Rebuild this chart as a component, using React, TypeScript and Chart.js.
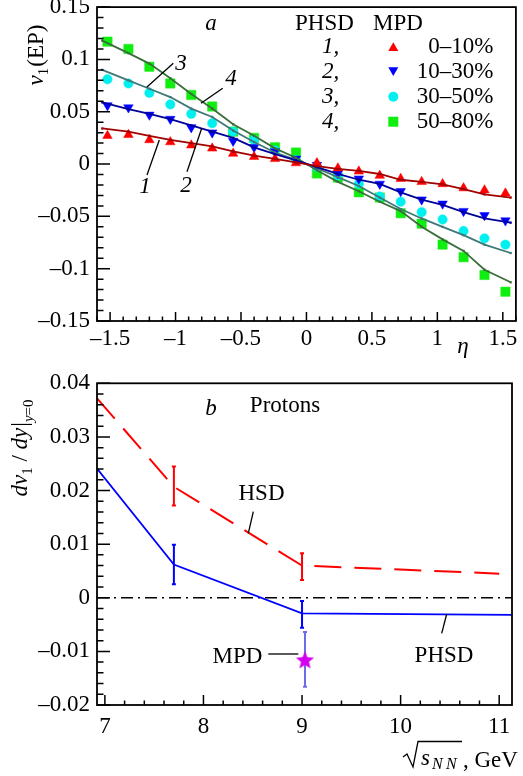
import React, { useEffect, useRef } from 'react';
import { Chart, registerables } from 'chart.js';
Chart.register(...registerables);

const SERIF = '"Liberation Serif", "Times New Roman", Times, "DejaVu Serif", serif';
const font = (size: number, style = '') => `${style} ${size}px ${SERIF}`.trim();

// ---------- Panel a : v1(EP) vs eta ----------
const ETA_MPD = [-1.52, -1.36, -1.2, -1.04, -0.88, -0.72, -0.56, -0.4, -0.24, -0.08, 0.08, 0.24, 0.4, 0.56, 0.72, 0.88, 1.04, 1.2, 1.36, 1.52];
const MPD_C0_10 = [0.027, 0.028, 0.023, 0.021, 0.018, 0.015, 0.010, 0.007, 0.005, 0.001, 0.001, -0.004, -0.007, -0.011, -0.014, -0.017, -0.019, -0.023, -0.025, -0.028];
const MPD_C10_30 = [0.056, 0.054, 0.047, 0.043, 0.035, 0.030, 0.022, 0.016, 0.012, 0.005, -0.001, -0.009, -0.014, -0.019, -0.026, -0.034, -0.038, -0.045, -0.049, -0.054];
const MPD_C30_50 = [0.081, 0.077, 0.068, 0.057, 0.048, 0.039, 0.031, 0.023, 0.013, 0.004, -0.003, -0.011, -0.019, -0.031, -0.036, -0.046, -0.053, -0.064, -0.071, -0.077];
const MPD_C50_80 = [0.117, 0.110, 0.093, 0.077, 0.066, 0.055, 0.031, 0.025, 0.016, 0.011, -0.009, -0.013, -0.027, -0.032, -0.047, -0.057, -0.077, -0.089, -0.106, -0.122];

const ETA_PHSD = [-1.56, -1.36, -1.2, -1.04, -0.88, -0.72, -0.56, -0.4, -0.24, -0.08, 0.08, 0.24, 0.4, 0.56, 0.72, 0.88, 1.04, 1.2, 1.36, 1.56];
const PHSD_1 = [0.034, 0.031, 0.027, 0.023, 0.020, 0.017, 0.012, 0.008, 0.005, 0.0015, -0.002, -0.0047, -0.0065, -0.0095, -0.015, -0.017, -0.0195, -0.024, -0.029, -0.032];
const PHSD_2 = [0.059, 0.0525, 0.048, 0.043, 0.037, 0.031, 0.025, 0.016, 0.0095, 0.0035, -0.003, -0.0094, -0.015, -0.019, -0.027, -0.034, -0.039, -0.046, -0.052, -0.056];
const PHSD_3 = [0.090, 0.080, 0.072, 0.064, 0.053, 0.045, 0.032, 0.021, 0.011, 0.004, -0.004, -0.0125, -0.021, -0.032, -0.043, -0.052, -0.060, -0.068, -0.077, -0.085];
const PHSD_4 = [0.118, 0.106, 0.096, 0.082, 0.067, 0.053, 0.038, 0.027, 0.015, 0.006, -0.006, -0.017, -0.026, -0.036, -0.045, -0.060, -0.072, -0.083, -0.101, -0.113];

const A_X_TICKS = [-1.5, -1, -0.5, 0, 0.5, 1, 1.5];
const A_X_LABELS = ['\u20131.5', '\u20131', '\u20130.5', '0', '0.5', '1', '1.5'];
const A_Y_TICKS = [-0.15, -0.1, -0.05, 0, 0.05, 0.1, 0.15];
const A_Y_LABELS = ['\u20130.15', '\u20130.1', '\u20130.05', '0', '0.05', '0.1', '0.15'];
const CENTRALITY = ['0\u201310%', '10\u201330%', '30\u201350%', '50\u201380%'];
const PHSD_IDS = ['1', '2', '3', '4'];

// ---------- Panel b : dv1/dy vs sqrt(sNN) ----------
const SQRT_S_HSD = [6.92, 7.7, 9.0, 11.0];
const DV1DY_HSD = [0.0372, 0.0207, 0.006, 0.0045];
const SQRT_S_PHSD = [6.92, 7.7, 9.0, 11.13];
const DV1DY_PHSD = [0.0241, 0.0062, -0.0029, -0.0032];
const ERR_X = [7.7, 9.0];
const HSD_ERR_LO = [0.0172, 0.0033];
const HSD_ERR_HI = [0.0245, 0.0083];
const PHSD_ERR_LO = [0.0025, -0.0056];
const PHSD_ERR_HI = [0.0099, -0.0006];
const MPD_X = [9.03];
const MPD_Y = [-0.0115];
const MPD_LO = [-0.0166];
const MPD_HI = [-0.0064];
const ZERO_X = [6.92, 11.13];
const ZERO_Y = [0, 0];

const B_X_TICKS = [7, 8, 9, 10, 11];
const B_X_LABELS = ['7', '8', '9', '10', '11'];
const B_Y_TICKS = [-0.02, -0.01, 0, 0.01, 0.02, 0.03, 0.04];
const B_Y_LABELS = ['\u20130.02', '\u20130.01', '0', '0.01', '0.02', '0.03', '0.04'];

type Part = { t: string; f: string; dy?: number; dx?: number };
function drawRich(ctx: CanvasRenderingContext2D, parts: Part[], x: number, y: number, angle: number, align: 'left' | 'center' | 'right') {
  ctx.save();
  ctx.translate(x, y);
  ctx.rotate(angle);
  ctx.textAlign = 'left';
  ctx.textBaseline = 'alphabetic';
  ctx.fillStyle = '#000';
  let total = 0;
  const w = parts.map((p) => { ctx.font = p.f; const m = ctx.measureText(p.t).width + (p.dx || 0); total += m; return m; });
  let cx = align === 'center' ? -total / 2 : align === 'right' ? -total : 0;
  parts.forEach((p, i) => { ctx.font = p.f; ctx.fillText(p.t, cx + (p.dx || 0), p.dy || 0); cx += w[i]; });
  ctx.restore();
}

function text(ctx: CanvasRenderingContext2D, t: string, x: number, y: number, f: string, align: CanvasTextAlign = 'left') {
  ctx.save();
  ctx.font = f; ctx.fillStyle = '#000'; ctx.textAlign = align; ctx.textBaseline = 'alphabetic';
  ctx.fillText(t, x, y);
  ctx.restore();
}

function line(ctx: CanvasRenderingContext2D, x1: number, y1: number, x2: number, y2: number, w = 1.3) {
  ctx.save();
  ctx.strokeStyle = '#000'; ctx.lineWidth = w;
  ctx.beginPath(); ctx.moveTo(x1, y1); ctx.lineTo(x2, y2); ctx.stroke();
  ctx.restore();
}

type TickCfg = { xMajor: number[]; xStep: number; xMaj: number; xMin: number; yMajor: number[]; yStep: number; yMaj: number; yMin: number };
function drawFrameTicks(chart: any, c: TickCfg) {
  const { ctx, chartArea: ca, scales } = chart;
  const xs = scales.x, ys = scales.y;
  ctx.save();
  ctx.strokeStyle = '#000';
  ctx.lineWidth = 1.5;
  ctx.beginPath();
  for (let k = Math.ceil(xs.min / c.xStep - 1e-6); k * c.xStep <= xs.max + 1e-9; k++) {
    const v = k * c.xStep;
    const major = c.xMajor.some((m) => Math.abs(m - v) < c.xStep / 10);
    const px = xs.getPixelForValue(v);
    ctx.moveTo(px, ca.bottom);
    ctx.lineTo(px, ca.bottom - (major ? c.xMaj : c.xMin));
  }
  for (let k = Math.ceil(ys.min / c.yStep - 1e-6); k * c.yStep <= ys.max + 1e-9; k++) {
    const v = k * c.yStep;
    const major = c.yMajor.some((m) => Math.abs(m - v) < c.yStep / 10);
    const py = ys.getPixelForValue(v);
    ctx.moveTo(ca.left, py);
    ctx.lineTo(ca.left + (major ? c.yMaj : c.yMin), py);
  }
  ctx.stroke();
  ctx.lineWidth = 1.8;
  ctx.strokeRect(ca.left, ca.top, ca.right - ca.left, ca.bottom - ca.top);
  ctx.restore();
}

function drawMarker(ctx: CanvasRenderingContext2D, kind: string, x: number, y: number, color: string, r: number) {
  ctx.save();
  ctx.fillStyle = color;
  ctx.beginPath();
  if (kind === 'up') { ctx.moveTo(x, y - r); ctx.lineTo(x + r * 0.866, y + r / 2); ctx.lineTo(x - r * 0.866, y + r / 2); }
  else if (kind === 'down') { ctx.moveTo(x, y + r); ctx.lineTo(x + r * 0.866, y - r / 2); ctx.lineTo(x - r * 0.866, y - r / 2); }
  else if (kind === 'circle') { ctx.arc(x, y, r, 0, Math.PI * 2); }
  else { ctx.rect(x - r, y - r, 2 * r, 2 * r); }
  ctx.closePath();
  ctx.fill();
  ctx.restore();
}

function xScale(min: number, max: number, ticks: number[], labels: string[], pad: number) {
  return {
    type: 'linear', min, max,
    grid: { display: false, drawTicks: false },
    border: { display: false },
    afterBuildTicks: (s: any) => { s.ticks = ticks.map((v) => ({ value: v })); },
    afterFit: (s: any) => { s.height = 40; s.paddingLeft = 0; s.paddingRight = 0; },
    ticks: {
      font: { family: SERIF, size: 23 }, color: '#000', padding: pad, maxRotation: 0, minRotation: 0, autoSkip: false,
      callback: (v: number) => { const i = ticks.findIndex((t) => Math.abs(t - v) < 1e-9); return i >= 0 ? labels[i] : ''; },
    },
  };
}
function yScale(min: number, max: number, ticks: number[], labels: string[], pad: number) {
  return {
    type: 'linear', min, max,
    grid: { display: false, drawTicks: false },
    border: { display: false },
    afterBuildTicks: (s: any) => { s.ticks = ticks.map((v) => ({ value: v })); },
    afterFit: (s: any) => { s.width = 97; s.paddingTop = 0; s.paddingBottom = 0; },
    ticks: {
      font: { family: SERIF, size: 23 }, color: '#000', padding: pad, autoSkip: false,
      callback: (v: number) => { const i = ticks.findIndex((t) => Math.abs(t - v) < 1e-9); return i >= 0 ? labels[i] : ''; },
    },
  };
}

const RED = '#ff0000', BLUE = '#0000ff', CYAN = '#00f0f0', GREEN = '#10ee10';
const L_RED = '#a30000', L_BLUE = '#00009a', L_TEAL = '#3f7878', L_GREEN = '#3b6e3b';

function topConfig(): any {
  const pts = (xs: number[], ys: number[]) => xs.map((x, i) => ({ x, y: ys[i] }));
  const lineDs = (ys: number[], color: string) => ({
    data: pts(ETA_PHSD, ys), showLine: true, borderColor: color, borderWidth: 1.8,
    pointRadius: 1.6, pointStyle: 'rect', pointBackgroundColor: color, pointBorderColor: color, pointBorderWidth: 0, order: 0,
  });
  const markDs = (ys: number[], color: string, style: string, r: number, rot = 0) => ({
    data: pts(ETA_MPD, ys), showLine: false, pointStyle: style, pointRadius: r, pointRotation: rot,
    pointBackgroundColor: color, pointBorderColor: color, pointBorderWidth: 0.5, order: 1,
  });
  const plugin = {
    id: 'panelA',
    afterDraw(chart: any) {
      const ctx = chart.ctx as CanvasRenderingContext2D;
      drawFrameTicks(chart, { xMajor: A_X_TICKS, xStep: 0.1, xMaj: 9, xMin: 4.5, yMajor: A_Y_TICKS, yStep: 0.01, yMaj: 13, yMin: 6.5 });
      drawRich(ctx, [
        { t: 'v', f: font(23, 'italic') },
        { t: '1', f: font(15), dy: 5 },
        { t: '(EP)', f: font(23), dx: 1 },
      ], 43, 55, -Math.PI / 2, 'center');
      text(ctx, '\u03b7', 463, 353, font(23, 'italic'), 'center');
      text(ctx, 'a', 211, 30, font(23, 'italic'), 'center');
      text(ctx, 'PHSD', 295, 30, font(23));
      text(ctx, 'MPD', 373, 30, font(23));
      const kinds = ['up', 'down', 'circle', 'square'];
      const cols = [RED, BLUE, CYAN, GREEN];
      const rs = [5.8, 5.8, 5, 5];
      for (let i = 0; i < 4; i++) {
        const base = 53.3 + i * 25;
        text(ctx, PHSD_IDS[i] + ',', 322, base, font(23, 'italic'));
        let cy = base - 6.6;
        if (kinds[i] === 'up') cy += rs[i] / 4;
        if (kinds[i] === 'down') cy -= rs[i] / 4;
        drawMarker(ctx, kinds[i], 393.3, cy, cols[i], rs[i]);
        text(ctx, CENTRALITY[i], 493.3, base, font(23), 'right');
      }
      text(ctx, '1', 145, 193, font(23, 'italic'), 'center');
      line(ctx, 147, 175, 159.3, 140);
      text(ctx, '2', 186, 192, font(23, 'italic'), 'center');
      line(ctx, 187, 171.7, 201.7, 128.3);
      text(ctx, '3', 181, 70, font(23, 'italic'), 'center');
      line(ctx, 173.3, 63.3, 146.7, 87.3);
      text(ctx, '4', 231, 85, font(23, 'italic'), 'center');
      line(ctx, 222.7, 88.3, 201, 103.3);
    },
  };
  return {
    type: 'scatter',
    data: {
      datasets: [
        lineDs(PHSD_1, L_RED), lineDs(PHSD_2, L_BLUE), lineDs(PHSD_3, L_TEAL), lineDs(PHSD_4, L_GREEN),
        markDs(MPD_C0_10, RED, 'triangle', 5.5),
        markDs(MPD_C10_30, BLUE, 'triangle', 5.5, 180),
        markDs(MPD_C30_50, CYAN, 'circle', 4.7),
        markDs(MPD_C50_80, GREEN, 'rect', 6.6),
      ],
    },
    options: {
      responsive: false, animation: false, devicePixelRatio: 1, events: [],
      layout: { padding: { left: 0, top: 3, right: 7, bottom: 776 - 321 - 40 } },
      plugins: { legend: { display: false }, tooltip: { enabled: false } },
      scales: { x: xScale(-1.6, 1.6, A_X_TICKS, A_X_LABELS, 4), y: yScale(-0.15, 0.15, A_Y_TICKS, A_Y_LABELS, 7) },
    },
    plugins: [plugin],
  };
}

function starCanvas(color: string, R: number, r: number) {
  const c = document.createElement('canvas');
  const s = Math.ceil(2 * R + 2);
  c.width = s; c.height = s;
  const g = c.getContext('2d')!;
  g.fillStyle = color;
  g.beginPath();
  for (let i = 0; i < 10; i++) {
    const rad = i % 2 === 0 ? R : r;
    const a = -Math.PI / 2 + (i * Math.PI) / 5;
    const px = s / 2 + rad * Math.cos(a), py = s / 2 + 1.2 + rad * Math.sin(a);
    if (i === 0) g.moveTo(px, py); else g.lineTo(px, py);
  }
  g.closePath(); g.fill();
  return c;
}

function bottomConfig(): any {
  const pts = (xs: number[], ys: number[]) => xs.map((x, i) => ({ x, y: ys[i] }));
  const errs = [
    ...ERR_X.map((x, i) => ({ x, lo: HSD_ERR_LO[i], hi: HSD_ERR_HI[i], color: RED })),
    ...ERR_X.map((x, i) => ({ x, lo: PHSD_ERR_LO[i], hi: PHSD_ERR_HI[i], color: BLUE })),
    ...MPD_X.map((x, i) => ({ x, lo: MPD_LO[i], hi: MPD_HI[i], color: '#6c6ce6' })),
  ];
  const plugin = {
    id: 'panelB',
    beforeDatasetsDraw(chart: any) {
      const ctx = chart.ctx as CanvasRenderingContext2D;
      const xs = chart.scales.x, ys = chart.scales.y;
      ctx.save();
      ctx.lineWidth = 2;
      for (const e of errs) {
        const px = xs.getPixelForValue(e.x), p1 = ys.getPixelForValue(e.lo), p2 = ys.getPixelForValue(e.hi);
        ctx.strokeStyle = e.color;
        ctx.beginPath();
        ctx.moveTo(px, p1); ctx.lineTo(px, p2);
        ctx.moveTo(px - 2, p1); ctx.lineTo(px + 2, p1);
        ctx.moveTo(px - 2, p2); ctx.lineTo(px + 2, p2);
        ctx.stroke();
      }
      ctx.restore();
    },
    afterDraw(chart: any) {
      const ctx = chart.ctx as CanvasRenderingContext2D;
      drawFrameTicks(chart, { xMajor: B_X_TICKS, xStep: 0.2, xMaj: 10, xMin: 4.5, yMajor: B_Y_TICKS, yStep: 0.002, yMaj: 13, yMin: 6.5 });
      drawRich(ctx, [
        { t: 'dv', f: font(23, 'italic') },
        { t: '1', f: font(15), dy: 5 },
        { t: ' / ', f: font(23) },
        { t: 'dy', f: font(23, 'italic') },
        { t: '|', f: font(23), dx: 1 },
        { t: 'y', f: font(15, 'italic'), dy: 6 },
        { t: '=0', f: font(15), dy: 6 },
      ], 27, 448, -Math.PI / 2, 'center');
      ctx.save();
      ctx.strokeStyle = '#000'; ctx.lineWidth = 1.3;
      ctx.beginPath();
      ctx.moveTo(403, 757); ctx.lineTo(407, 754); ctx.lineTo(413, 767); ctx.lineTo(418, 741.5); ctx.lineTo(462, 741.5);
      ctx.stroke();
      ctx.restore();
      text(ctx, 's', 421, 765, font(23, 'italic'));
      text(ctx, 'N', 432, 769, font(16, 'italic'));
      text(ctx, 'N', 446, 769, font(16, 'italic'));
      text(ctx, ', GeV', 463, 767, font(23));
      text(ctx, 'b', 211, 415, font(23, 'italic'), 'center');
      text(ctx, 'Protons', 285, 411.7, font(23), 'center');
      text(ctx, 'HSD', 261.5, 500, font(23), 'center');
      line(ctx, 253.3, 511.7, 248.3, 533.3);
      text(ctx, 'MPD', 237.5, 663, font(23), 'center');
      line(ctx, 268.3, 654, 298.3, 654);
      text(ctx, 'PHSD', 444, 661.7, font(23), 'center');
      line(ctx, 441.7, 633.3, 446.7, 614);
    },
  };
  return {
    type: 'scatter',
    data: {
      datasets: [
        { data: pts(MPD_X, MPD_Y), showLine: false, pointStyle: starCanvas('#d400ee', 9.5, 4.2), pointRadius: 10, order: 0 },
        { data: pts(SQRT_S_HSD, DV1DY_HSD), showLine: true, borderColor: RED, borderWidth: 2, borderDash: [27, 13], pointRadius: 0, order: 1 },
        { data: pts(SQRT_S_PHSD, DV1DY_PHSD), showLine: true, borderColor: BLUE, borderWidth: 1.8, pointRadius: 0, order: 1 },
        { data: pts(ZERO_X, ZERO_Y), showLine: true, borderColor: '#000', borderWidth: 1.4, borderDash: [12, 5, 2, 5], pointRadius: 0, order: 2 },
      ],
    },
    options: {
      responsive: false, animation: false, devicePixelRatio: 1, events: [],
      layout: { padding: { left: 0, top: 383.3, right: 7, bottom: 776 - 705 - 40 } },
      plugins: { legend: { display: false }, tooltip: { enabled: false } },
      scales: { x: xScale(6.92, 11.13, B_X_TICKS, B_X_LABELS, 8), y: yScale(-0.02, 0.04, B_Y_TICKS, B_Y_LABELS, 7) },
    },
    plugins: [plugin],
  };
}

export default function App() {
  const topRef = useRef<HTMLCanvasElement>(null);
  const botRef = useRef<HTMLCanvasElement>(null);
  useEffect(() => {
    let c1: Chart | null = null, c2: Chart | null = null;
    let alive = true;
    const make = () => {
      if (!alive) return;
      c1 = new Chart(topRef.current as HTMLCanvasElement, topConfig());
      c2 = new Chart(botRef.current as HTMLCanvasElement, bottomConfig());
    };
    const fs: any = (document as any).fonts;
    if (fs && fs.load) {
      Promise.all([
        fs.load('23px "Liberation Serif"'),
        fs.load('italic 23px "Liberation Serif"'),
      ]).then(make, make);
    } else make();
    return () => { alive = false; if (c1) c1.destroy(); if (c2) c2.destroy(); };
  }, []);
  return (
    <div style={{ position: 'absolute', left: 0, top: 0, width: 523, height: 776, background: '#fff' }}>
      <span style={{ position: 'absolute', left: -1000, top: 0, fontFamily: '"Liberation Serif"' }}>a<i>a</i></span>
      <canvas ref={topRef} width={523} height={776} style={{ position: 'absolute', left: 0, top: 0 }} />
      <canvas ref={botRef} width={523} height={776} style={{ position: 'absolute', left: 0, top: 0 }} />
    </div>
  );
}
